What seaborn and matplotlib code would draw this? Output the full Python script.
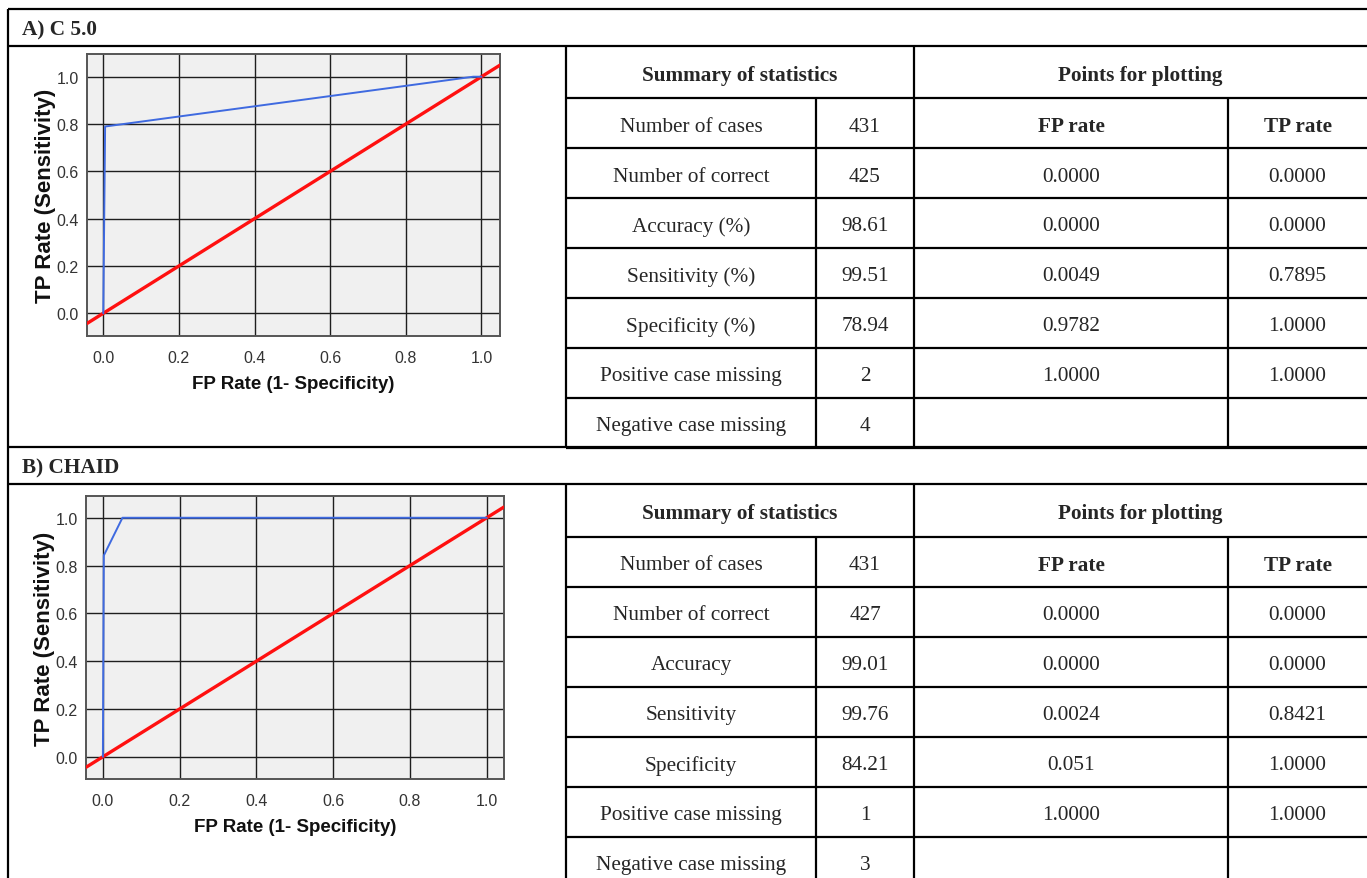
import matplotlib
matplotlib.use("Agg")
import matplotlib.pyplot as plt
import pandas as pd
import seaborn as sns

# --- data ---
stat_labels_a = ["Number of cases", "Number of correct", "Accuracy (%)", "Sensitivity (%)",
                 "Specificity (%)", "Positive case missing", "Negative case missing"]
stat_values_a = ["431", "425", "98.61", "99.51", "78.94", "2", "4"]
fp_rate_a = ["0.0000", "0.0000", "0.0049", "0.9782", "1.0000"]
tp_rate_a = ["0.0000", "0.0000", "0.7895", "1.0000", "1.0000"]

stat_labels_b = ["Number of cases", "Number of correct", "Accuracy", "Sensitivity",
                 "Specificity", "Positive case missing", "Negative case missing"]
stat_values_b = ["431", "427", "99.01", "99.76", "84.21", "1", "3"]
fp_rate_b = ["0.0000", "0.0000", "0.0024", "0.051", "1.0000"]
tp_rate_b = ["0.0000", "0.0000", "0.8421", "1.0000", "1.0000"]

tick_values = [0.0, 0.2, 0.4, 0.6, 0.8, 1.0]

W, H = 1367, 879
sns.set_style("white")
plt.rcParams["font.family"] = ["Liberation Serif", "DejaVu Serif"]
SERIF = ["Liberation Serif", "DejaVu Serif"]
SANS = ["Liberation Sans", "DejaVu Sans"]

fig = plt.figure(figsize=(W / 100, H / 100), dpi=100)
bg = fig.add_axes([0, 0, 1, 1])
bg.set_xlim(0, W)
bg.set_ylim(H, 0)
bg.axis("off")

LW = 1.6
FS = 15.3
DY = 3  # text sits a little low in its cell


def hline(y, x0, x1):
    bg.plot([x0, x1], [y, y], color="black", lw=LW, solid_capstyle="butt")


def vline(x, y0, y1):
    bg.plot([x, x], [y0, y1], color="black", lw=LW, solid_capstyle="butt")


def cell_text(x, y, s, bold=False):
    bg.text(x, y + DY, s, ha="center", va="center", fontsize=FS, family=SERIF,
            fontweight="bold" if bold else "normal")


# outer frame and section title rows
for y in [10, 47, 448, 485]:
    hline(y, 8, W)
vline(8, 10, H)
bg.text(22, 29 + 1, "A) C 5.0", ha="left", va="center", fontsize=FS, family=SERIF, fontweight="bold")
bg.text(22, 467 + 1, "B) CHAID", ha="left", va="center", fontsize=FS, family=SERIF, fontweight="bold")

cols = [566, 816, 914, 1228, W]


def draw_table(top, header_h, row_h, bottom, labels, values, fp, tp):
    n = len(labels)
    row_top = top + header_h
    for i in range(n + 1):
        y = row_top + i * row_h
        if y <= H:
            hline(y, cols[0], W)
    vline(cols[0], top, bottom)
    vline(cols[2], top, bottom)
    vline(cols[1], row_top, bottom)
    vline(cols[3], row_top, bottom)
    cell_text((cols[0] + cols[2]) / 2, top + header_h / 2, "Summary of statistics", bold=True)
    cell_text((cols[2] + cols[4]) / 2, top + header_h / 2, "Points for plotting", bold=True)
    for i in range(n):
        yc = row_top + (i + 0.5) * row_h
        cell_text((cols[0] + cols[1]) / 2, yc, labels[i])
        cell_text((cols[1] + cols[2]) / 2, yc, values[i])
    cell_text((cols[2] + cols[3]) / 2, row_top + 0.5 * row_h, "FP rate", bold=True)
    cell_text((cols[3] + cols[4]) / 2, row_top + 0.5 * row_h, "TP rate", bold=True)
    for i in range(len(fp)):
        yc = row_top + (i + 1.5) * row_h
        cell_text((cols[2] + cols[3]) / 2, yc, fp[i])
        cell_text((cols[3] + cols[4]) / 2, yc, tp[i])


draw_table(47, 52, 50, 448, stat_labels_a, stat_values_a, fp_rate_a, tp_rate_a)
draw_table(485, 53, 50, H, stat_labels_b, stat_values_b, fp_rate_b, tp_rate_b)


def roc_axes(box, xlim, ylim, fp, tp):
    x0, y0, x1, y1 = box
    ax = fig.add_axes([x0 / W, 1 - y1 / H, (x1 - x0) / W, (y1 - y0) / H])
    ax.set_facecolor("#f0f0f0")
    df = pd.DataFrame({"fp": [float(v) for v in fp], "tp": [float(v) for v in tp]})
    ax.set_xticks(tick_values)
    ax.set_yticks(tick_values)
    ax.grid(True, color="#1e1e1e", lw=1.0, zorder=1)
    ax.set_axisbelow(True)
    ax.axline((0, 0), slope=1, color="#ff1010", lw=2.4, zorder=3)
    sns.lineplot(data=df, x="fp", y="tp", ax=ax, sort=False, estimator=None,
                 color="#3f6ae0", lw=1.4, zorder=4)
    ax.set_xlim(*xlim)
    ax.set_ylim(*ylim)
    ax.set_xticklabels([f"{t:.1f}" for t in tick_values], family=SANS, fontsize=11.5, color="#333333")
    ax.set_yticklabels([f"{t:.1f}" for t in tick_values], family=SANS, fontsize=11.5, color="#333333")
    ax.tick_params(axis="both", length=5, width=1, color="#222222")
    ax.tick_params(axis="x", pad=5)
    ax.tick_params(axis="y", pad=1)
    for sp in ax.spines.values():
        sp.set_color("#555555")
        sp.set_linewidth(1.4)
    ax.set_xlabel("FP Rate (1- Specificity)", family=SANS, fontweight="bold", fontsize=13.5,
                  color="#111111", labelpad=7)
    ax.set_ylabel("TP Rate (Sensitivity)", family=SANS, fontweight="bold", fontsize=16,
                  color="#111111", labelpad=0)
    return ax


roc_axes((87, 55, 500, 337), (-0.043, 1.049), (-0.096, 1.096), fp_rate_a, tp_rate_a)
roc_axes((86, 497, 504, 780), (-0.044, 1.045), (-0.093, 1.091), fp_rate_b, tp_rate_b)

fig.savefig("out.png", dpi=100, facecolor="white")
